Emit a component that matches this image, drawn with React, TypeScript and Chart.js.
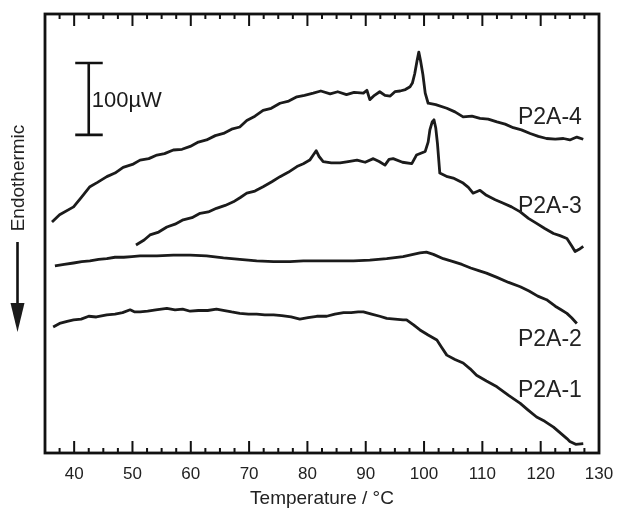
import { useEffect, useRef } from "react";
import { Chart, registerables } from "chart.js";

Chart.register(...registerables);

const FONT = "'Liberation Sans', Arial, Helvetica, sans-serif";
const INK = "#1b1b1b";

// Temperature (°C) / heat flow (µW, arbitrary offset)
const p2a4Temp = [36.2, 37.5, 39.9, 41.2, 42.7, 44.0, 45.6, 47.0, 48.4, 50.0, 51.3, 52.8, 54.2, 55.5, 57.0, 58.5, 59.9, 61.3, 62.7, 64.2, 65.6, 67.0, 68.4, 69.6, 71.0, 72.4, 73.8, 75.3, 76.8, 78.2, 79.5, 81.0, 82.3, 83.9, 85.2, 86.7, 88.0, 89.6, 90.2, 90.7, 91.5, 92.4, 93.3, 94.2, 95.0, 95.9, 96.8, 97.6, 98.0, 98.4, 98.8, 99.1, 99.4, 99.8, 100.2, 100.7, 102.0, 103.9, 105.3, 106.7, 108.2, 109.6, 111.0, 112.5, 113.9, 115.3, 116.7, 118.2, 119.6, 121.0, 122.5, 123.9, 125.0, 126.2, 127.3];
const p2a4Flow = [321, 331, 342, 355, 370, 376, 384, 389, 397, 401, 407, 409, 414, 416, 421, 422, 426, 432, 435, 441, 444, 450, 453, 462, 468, 476, 479, 486, 489, 495, 497, 500, 503, 499, 502, 498, 501, 500, 504, 491, 497, 502, 497, 496, 502, 503, 505, 509, 514, 527, 545, 557, 545, 526, 500, 486, 484, 479, 474, 467, 468, 465, 464, 460, 457, 452, 449, 444, 440, 437, 436, 437, 435, 439, 436];

const p2a3Temp = [50.6, 52.0, 53.0, 54.5, 55.9, 57.3, 58.7, 60.2, 61.6, 63.0, 64.4, 65.9, 67.3, 68.5, 69.6, 71.0, 72.4, 73.9, 75.3, 76.7, 78.2, 79.3, 80.4, 81.0, 81.5, 82.0, 82.7, 84.1, 85.6, 87.0, 88.5, 89.9, 91.3, 92.3, 93.3, 94.0, 94.7, 96.3, 97.9, 98.7, 100.2, 100.7, 101.0, 101.4, 101.7, 102.0, 102.3, 102.7, 104.0, 105.0, 106.7, 107.6, 108.4, 109.6, 110.7, 112.2, 113.6, 115.0, 116.5, 117.9, 119.3, 120.7, 122.2, 123.3, 124.5, 125.3, 125.9, 126.6, 127.3];
const p2a3Flow = [289, 296, 303, 307, 314, 318, 324, 327, 333, 335, 340, 344, 349, 355, 361, 364, 370, 377, 384, 390, 398, 402, 407, 414, 420, 412, 405, 403, 403, 405, 407, 404, 409, 405, 400, 408, 409, 404, 402, 414, 419, 432, 449, 460, 463, 452, 430, 389, 384, 382, 375, 369, 361, 365, 358, 352, 347, 342, 335, 326, 319, 312, 305, 302, 298, 288, 280, 283, 287];

const p2a2Temp = [36.7, 38.3, 39.9, 41.3, 42.7, 44.2, 45.6, 47.0, 48.5, 49.9, 51.3, 54.2, 57.0, 59.9, 62.7, 65.6, 68.4, 71.3, 74.2, 77.0, 79.3, 82.2, 85.0, 87.9, 90.7, 93.6, 96.4, 99.3, 100.4, 101.6, 103.3, 105.0, 106.5, 108.0, 109.5, 110.7, 112.5, 114.5, 116.5, 118.0, 119.5, 121.0, 122.5, 123.5, 124.5, 125.3, 126.2];
const p2a2Flow = [260, 262, 264, 266, 267, 269, 270, 272, 272, 273, 274, 274, 275, 275, 274, 271, 269, 267, 266, 266, 267, 267, 267, 267, 268, 270, 273, 278, 279, 276, 270, 266, 262, 257, 253, 250, 244, 237, 231, 225, 218, 213, 204, 199, 194, 188, 180];

const p2a1Temp = [36.4, 37.5, 38.8, 39.9, 41.2, 42.5, 43.8, 45.6, 47.0, 48.3, 49.6, 50.4, 51.3, 52.6, 54.0, 55.9, 57.3, 58.6, 59.9, 61.3, 62.9, 64.4, 65.8, 67.0, 68.4, 69.9, 71.3, 72.7, 74.2, 75.6, 77.2, 78.7, 80.1, 81.6, 83.3, 84.7, 86.2, 87.5, 88.7, 89.6, 91.0, 92.4, 93.6, 95.0, 96.4, 97.0, 98.2, 99.3, 100.7, 102.2, 103.0, 103.9, 105.3, 106.7, 107.9, 109.0, 110.7, 112.5, 114.5, 116.5, 117.8, 119.3, 120.7, 122.2, 123.5, 124.5, 125.0, 126.0, 127.3];
const p2a1Flow = [175, 180, 183, 185, 186, 190, 189, 192, 193, 195, 199, 196, 196, 197, 199, 201, 199, 200, 197, 198, 198, 200, 198, 196, 194, 193, 193, 192, 192, 191, 189, 186, 188, 190, 190, 193, 195, 195, 196, 196, 193, 190, 187, 186, 185, 185, 178, 171, 164, 157, 147, 136, 130, 125, 117, 108, 100, 92, 80, 69, 60, 50, 44, 36, 27, 20, 16, 12, 13];

const xTickValues = [40, 50, 60, 70, 80, 90, 100, 110, 120, 130];
const xMin = 35;
const xMax = 130;
const yMin = 0;
const yMax = 610;
const minorStep = 2.5;
const majorStep = 10;

const curveLabels = ["P2A-4", "P2A-3", "P2A-2", "P2A-1"];
const curveLabelTemp = [116.1, 116.1, 116.1, 116.1];
const curveLabelFlow = [457, 333, 149, 78];

const scaleBarTemp = 42.5;
const scaleBarLow = 442;
const scaleBarHigh = 542;
const scaleBarText = "100\u00b5W";

const xTitle = "Temperature / \u00b0C";
const sideLabel = "Endothermic";

function pts(t: number[], f: number[]) {
  return t.map((x, i) => ({ x, y: f[i] }));
}

const decorPlugin = {
  id: "decor",
  afterDatasetsDraw(chart: any) {
    const { ctx, chartArea: a, scales } = chart;
    const x = scales.x;
    const y = scales.y;
    ctx.save();
    ctx.strokeStyle = "#111";
    ctx.fillStyle = INK;
    ctx.lineCap = "butt";

    // ticks (inward, top and bottom)
    ctx.lineWidth = 2;
    for (let t = xMin; t <= xMax + 1e-6; t += minorStep) {
      const px = x.getPixelForValue(t);
      const major = Math.abs(t / majorStep - Math.round(t / majorStep)) < 1e-6;
      const len = major ? 12 : 5;
      ctx.beginPath();
      ctx.moveTo(px, a.bottom);
      ctx.lineTo(px, a.bottom - len);
      ctx.moveTo(px, a.top);
      ctx.lineTo(px, a.top + len);
      ctx.stroke();
    }

    // frame
    ctx.lineWidth = 2.8;
    ctx.strokeRect(a.left, a.top, a.right - a.left, a.bottom - a.top);

    // scale bar
    const bx = x.getPixelForValue(scaleBarTemp);
    const b1 = y.getPixelForValue(scaleBarLow);
    const b2 = y.getPixelForValue(scaleBarHigh);
    ctx.lineWidth = 2.6;
    ctx.beginPath();
    ctx.moveTo(bx, b1);
    ctx.lineTo(bx, b2);
    ctx.moveTo(bx - 13.5, b1);
    ctx.lineTo(bx + 14, b1);
    ctx.moveTo(bx - 13.5, b2);
    ctx.lineTo(bx + 14, b2);
    ctx.stroke();
    ctx.font = `22px ${FONT}`;
    ctx.textAlign = "left";
    ctx.textBaseline = "alphabetic";
    ctx.fillText(scaleBarText, bx + 3, (b1 + b2) / 2 + 8);

    // curve labels
    ctx.font = `23px ${FONT}`;
    ctx.fillStyle = "#222";
    curveLabels.forEach((s, i) => {
      ctx.fillText(s, x.getPixelForValue(curveLabelTemp[i]), y.getPixelForValue(curveLabelFlow[i]));
    });

    // side label with arrow
    ctx.save();
    ctx.translate(18.5, 178);
    ctx.rotate(-Math.PI / 2);
    ctx.font = `19px ${FONT}`;
    ctx.textAlign = "center";
    ctx.textBaseline = "middle";
    ctx.fillText(sideLabel, 0, 0);
    ctx.restore();

    ctx.lineWidth = 2.6;
    ctx.beginPath();
    ctx.moveTo(17.5, 242);
    ctx.lineTo(17.5, 306);
    ctx.stroke();
    ctx.beginPath();
    ctx.moveTo(10.5, 303);
    ctx.lineTo(24.5, 303);
    ctx.lineTo(17.5, 332);
    ctx.closePath();
    ctx.fillStyle = INK;
    ctx.fill();

    ctx.restore();
  },
};

export default function App() {
  const ref = useRef<HTMLCanvasElement | null>(null);

  useEffect(() => {
    if (!ref.current) return;
    const mk = (label: string, t: number[], f: number[]) => ({
      label,
      data: pts(t, f),
      borderColor: INK,
      borderWidth: 2.8,
      pointRadius: 0,
      tension: 0,
      fill: false,
      borderJoinStyle: "round" as const,
    });
    const chart = new Chart(ref.current, {
      type: "line",
      data: {
        datasets: [
          mk("P2A-4", p2a4Temp, p2a4Flow),
          mk("P2A-3", p2a3Temp, p2a3Flow),
          mk("P2A-2", p2a2Temp, p2a2Flow),
          mk("P2A-1", p2a1Temp, p2a1Flow),
        ],
      },
      options: {
        responsive: false,
        animation: false,
        layout: { padding: { left: 45, right: 18, top: 14, bottom: 0 } },
        plugins: { legend: { display: false }, tooltip: { enabled: false } },
        scales: {
          x: {
            type: "linear",
            min: xMin,
            max: xMax,
            grid: { display: false, drawTicks: false },
            border: { display: false },
            afterBuildTicks: (axis: any) => {
              axis.ticks = xTickValues.map((v) => ({ value: v }));
            },
            afterFit: (axis: any) => {
              axis.height = 55;
              axis.paddingLeft = 0;
              axis.paddingRight = 0;
            },
            ticks: {
              padding: 11,
              color: "#222",
              maxRotation: 0,
              autoSkip: false,
              font: { family: FONT, size: 17 },
            },
            title: {
              display: true,
              text: xTitle,
              color: "#222",
              font: { family: FONT, size: 19, lineHeight: 1 },
              padding: { top: 0, bottom: 0 },
            },
          },
          y: {
            type: "linear",
            display: false,
            min: yMin,
            max: yMax,
          },
        },
      },
      plugins: [decorPlugin],
    });
    return () => chart.destroy();
  }, []);

  return (
    <div style={{ position: "absolute", left: 0, top: 0, width: 617, height: 508, background: "#fff" }}>
      <canvas ref={ref} width={617} height={508} />
    </div>
  );
}
